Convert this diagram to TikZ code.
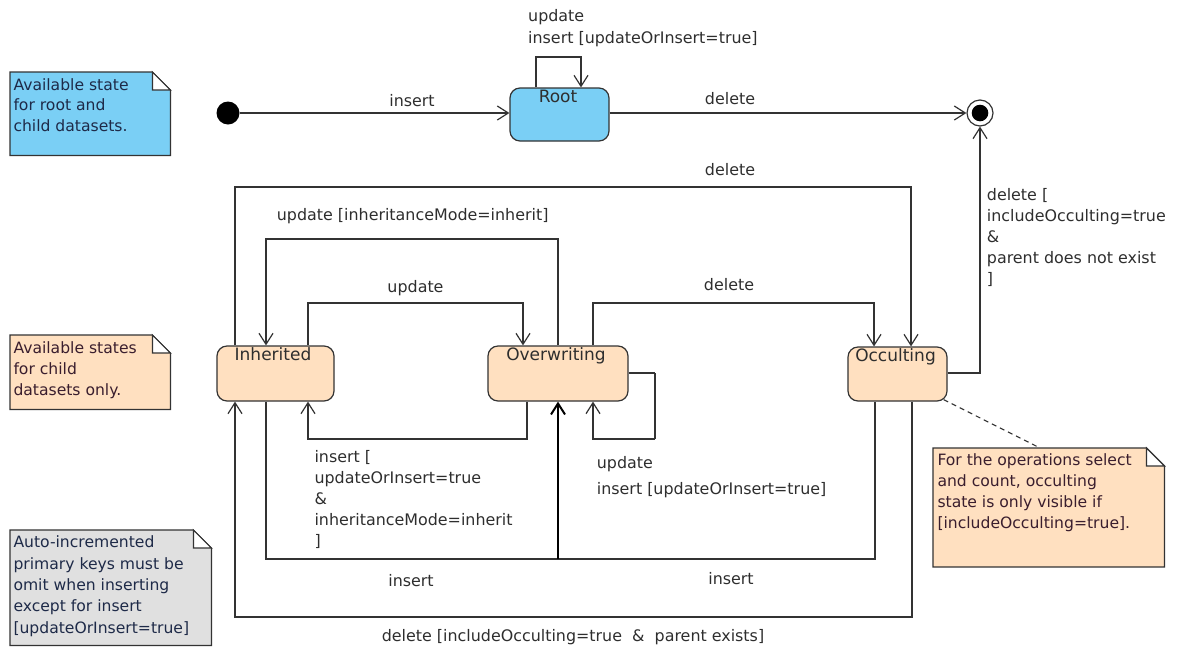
\documentclass[tikz,border=0pt]{standalone}
\usepackage{fontspec}
\setmainfont{DejaVu Sans}
\usetikzlibrary{arrows.meta}
\definecolor{rootblue}{HTML}{7ACFF5}
\definecolor{peach}{HTML}{FFE0C0}
\definecolor{notegray}{HTML}{E0E0E0}
\definecolor{linec}{HTML}{333333}
\definecolor{txt}{HTML}{2E2E2E}
\definecolor{bluetxt}{HTML}{1E2A48}
\definecolor{browntxt}{HTML}{3A1E2E}
\tikzset{
  stbox/.style={draw=linec, line width=1.2pt, rounded corners=10pt, fill=peach, inner sep=0pt},
  sttext/.style={text=txt, font=\fontsize{17}{21}\selectfont, inner sep=0pt, anchor=base},
  ln/.style={draw=linec, line width=1.2pt},
  tr/.style={draw=linec, line width=1.2pt, -{Straight Barb[length=11pt,width=14pt,line width=1.2pt]}},
  trthick/.style={draw=black, line width=2.2pt, -{Straight Barb[length=11pt,width=14pt,line width=2pt]}},
  lbl/.style={text=txt, font=\fontsize{15.9}{21}\selectfont, inner sep=0pt, align=left},
  notebox/.style={draw=linec, line width=1.2pt},
  notetxt/.style={font=\fontsize{15.6}{20.8}\selectfont, inner sep=0pt, align=left, anchor=base west},
}
\begin{document}
\begin{tikzpicture}[x=1pt,y=-1pt]
\useasboundingbox (0,0) rectangle (1177,646);

% ---------- notes (text anchored at the baseline of its last line) ----------
\node[minimum width=160pt, minimum height=83pt, anchor=north west, inner sep=0] (n1) at (10,72) {};
\draw[notebox, fill=rootblue] (n1.north west) -- ([xshift=-18pt]n1.north east) -- ([yshift=-18pt]n1.north east) -- (n1.south east) -- (n1.south west) -- cycle;
\draw[notebox, fill=white] ([xshift=-18pt]n1.north east) -- ([xshift=-18pt,yshift=-18pt]n1.north east) -- ([yshift=-18pt]n1.north east) -- cycle;
\node[notetxt, text=bluetxt] (t1) at (13.3,131.7) {Available state\\for root and\\child datasets.};

\node[minimum width=160pt, minimum height=74pt, anchor=north west, inner sep=0] (n2) at (10,335) {};
\draw[notebox, fill=peach] (n2.north west) -- ([xshift=-18pt]n2.north east) -- ([yshift=-18pt]n2.north east) -- (n2.south east) -- (n2.south west) -- cycle;
\draw[notebox, fill=white] ([xshift=-18pt]n2.north east) -- ([xshift=-18pt,yshift=-18pt]n2.north east) -- ([yshift=-18pt]n2.north east) -- cycle;
\node[notetxt, text=browntxt] (t2) at (13.3,395) {Available states\\for child\\datasets only.};

\node[minimum width=201pt, minimum height=115pt, anchor=north west, inner sep=0] (n3) at (10,530) {};
\draw[notebox, fill=notegray] (n3.north west) -- ([xshift=-18pt]n3.north east) -- ([yshift=-18pt]n3.north east) -- (n3.south east) -- (n3.south west) -- cycle;
\draw[notebox, fill=white] ([xshift=-18pt]n3.north east) -- ([xshift=-18pt,yshift=-18pt]n3.north east) -- ([yshift=-18pt]n3.north east) -- cycle;
\node[notetxt, text=bluetxt, font=\fontsize{15.6}{21.3}\selectfont] (t3) at (13.3,633) {Auto-incremented\\primary keys must be\\omit when inserting\\except for insert\\{[}updateOrInsert=true{]}};

\node[minimum width=231pt, minimum height=118.5pt, anchor=north west, inner sep=0] (n4) at (933,448) {};
\draw[notebox, fill=peach] (n4.north west) -- ([xshift=-18pt]n4.north east) -- ([yshift=-18pt]n4.north east) -- (n4.south east) -- (n4.south west) -- cycle;
\draw[notebox, fill=white] ([xshift=-18pt]n4.north east) -- ([xshift=-18pt,yshift=-18pt]n4.north east) -- ([yshift=-18pt]n4.north east) -- cycle;
\node[notetxt, text=browntxt] (t4) at (937.3,528.3) {For the operations select\\and count, occulting\\state is only visible if\\{[}includeOcculting=true{]}.};

% ---------- states ----------
\node[circle, fill=black, minimum size=23pt, inner sep=0] (init) at (228,113) {};
\node[circle, draw=linec, line width=1.2pt, fill=white, minimum size=26pt, inner sep=0] (final) at (980,113) {};
\fill[black] (final.center) circle[radius=8.3pt];

\node[stbox, fill=rootblue, minimum width=99pt, minimum height=53pt] (root) at (559.5,114.5) {};
\node[sttext] (rootT) at ([xshift=-1.5pt,yshift=-15.5pt]root.north) {Root};
\node[stbox, minimum width=117pt, minimum height=55pt] (inh) at (275.5,373.5) {};
\node[sttext] (inhT) at ([xshift=-2.5pt,yshift=-15.5pt]inh.north) {Inherited};
\node[stbox, minimum width=140pt, minimum height=55pt] (ovw) at (558,373.5) {};
\node[sttext] (ovwT) at ([xshift=-2pt,yshift=-15.5pt]ovw.north) {Overwriting};
\node[stbox, minimum width=99pt, minimum height=54pt] (occ) at (897.5,374) {};
\node[sttext] (occT) at ([xshift=-2pt,yshift=-15pt]occ.north) {Occulting};

% ---------- bend points ----------
\coordinate (rl1) at (536,57);   \coordinate (rl2) at (581,57);
\coordinate (d1) at (235,187);   \coordinate (d2) at (911,187);
\coordinate (u1) at (558,239);   \coordinate (u2) at (266,239);
\coordinate (v1) at (308,303);   \coordinate (v2) at (523,303);
\coordinate (w1) at (593,303);   \coordinate (w2) at (874,303);
\coordinate (s1) at (655,373);   \coordinate (s2) at (655,439);   \coordinate (s3) at (593,439);
\coordinate (i1) at (527,439);   \coordinate (i2) at (308,439);
\coordinate (j1) at (266,559);   \coordinate (j2) at (558,559);
\coordinate (k1) at (875,559);
\coordinate (m1) at (912,617);   \coordinate (m2) at (235,617);
\coordinate (f1) at (980,373);
\coordinate (dn) at (1040,448);

% ---------- transitions ----------
\draw[tr] (init) -- (init -| root.west);
\node[lbl, anchor=base] (l1) at (412,106) {insert};

\draw[tr] (root.east |- final) -- (final);
\node[lbl, anchor=base] (l2) at (730,104) {delete};

\draw[tr] (root.north -| rl1) -- (rl1) -- (rl2) -- (root.north -| rl2);
\node[lbl, anchor=base west] (l3) at (528,21) {update};
\node[lbl, anchor=base west] (l3b) at (528,43.5) {insert {[}updateOrInsert=true{]}};

\draw[tr] (inh.north -| d1) -- (d1) -- (d2) -- (occ.north -| d2);
\node[lbl, anchor=base] (l4) at (730,175) {delete};

\draw[tr] (ovw.north -| u1) -- (u1) -- (u2) -- (inh.north -| u2);
\node[lbl, anchor=base west] (l5) at (276.7,220.7) {update {[}inheritanceMode=inherit{]}};

\draw[tr] (inh.north -| v1) -- (v1) -- (v2) -- (ovw.north -| v2);
\node[lbl, anchor=base] (l6) at (415.5,292.7) {update};

\draw[tr] (ovw.north -| w1) -- (w1) -- (w2) -- (occ.north -| w2);
\node[lbl, anchor=base] (l7) at (729,290) {delete};

\draw[ln] (ovw.east |- s1) -- (s1);
\draw[ln, line width=2pt] (s1) -- (s2);
\draw[tr] (s2) -- (s3) -- (ovw.south -| s3);
\node[lbl, anchor=base west] (l8) at (596.7,468.3) {update};
\node[lbl, anchor=base west] (l8b) at (596.7,494) {insert {[}updateOrInsert=true{]}};

\draw[tr] (ovw.south -| i1) -- (i1) -- (i2) -- (inh.south -| i2);
\node[lbl, anchor=base west] (l9) at (314.3,462.7) {insert {[}};
\node[lbl, anchor=base west] (l9b) at (314.3,483.7) {updateOrInsert=true};
\node[lbl, anchor=base west] (l9c) at (314.3,504.7) {\&};
\node[lbl, anchor=base west] (l9d) at (314.3,525.7) {inheritanceMode=inherit};
\node[lbl, anchor=base west] (l9e) at (314.3,546.7) {{]}};

\draw[ln] (inh.south -| j1) -- (j1) -- (j2);
\draw[ln] (occ.south -| k1) -- (k1) -- (j2);
\draw[trthick] (j2) -- (ovw.south -| j2);
\node[lbl, anchor=base] (l10) at (411,586.7) {insert};
\node[lbl, anchor=base] (l11) at (731,584) {insert};

\draw[tr] (occ.south -| m1) -- (m1) -- (m2) -- (inh.south -| m2);
\node[lbl, anchor=base] (l12) at (573,641.7) {delete {[}includeOcculting=true\ \ \&\ \ parent exists{]}};

\draw[tr] (occ.east |- f1) -- (f1) -- (final);
\node[lbl, anchor=base west] (l13) at (986.7,200) {delete {[}};
\node[lbl, anchor=base west] (l13b) at (986.7,221) {includeOcculting=true};
\node[lbl, anchor=base west] (l13c) at (986.7,242) {\&};
\node[lbl, anchor=base west] (l13d) at (986.7,263) {parent does not exist};
\node[lbl, anchor=base west] (l13e) at (986.7,284) {{]}};

\draw[draw=linec, line width=1.1pt, dash pattern=on 5pt off 4pt] ([xshift=-4pt,yshift=2pt]occ.south east) -- (dn);
\end{tikzpicture}
\end{document}
